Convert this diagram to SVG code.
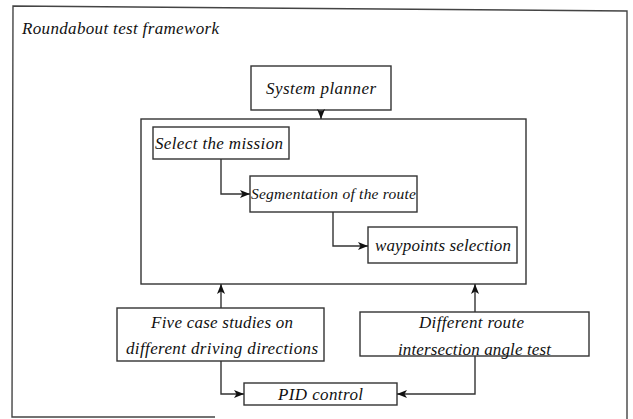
<svg xmlns="http://www.w3.org/2000/svg" width="633" height="419" viewBox="0 0 633 419">
<style>
.box{fill:#fff;stroke:#333;stroke-width:1.4}
.t{font-family:"Liberation Serif","Times New Roman",serif;font-style:italic;font-size:17px;fill:#111;text-anchor:middle}
.c{fill:none;stroke:#333;stroke-width:1.4}
</style>
<defs>
<marker id="ah" viewBox="0 0 10 8" refX="10" refY="4" markerWidth="10" markerHeight="8" markerUnits="userSpaceOnUse" orient="auto">
<path d="M0,0 L10,4 L0,8 L2.5,4 Z" fill="#111"/>
</marker>
</defs>
<rect width="633" height="419" fill="#fff"/>
<g id="frame">
<path d="M215,417 L12,417 L13,6 L627,11 L627,419" fill="none" stroke="#444" stroke-width="1.4"/>
<text class="t" x="22" y="34" style="text-anchor:start" textLength="197" lengthAdjust="spacing">Roundabout test framework</text>
</g>
<g id="system-planner">
<rect class="box" x="251" y="66" width="140" height="44"/>
<text class="t" x="321" y="94" textLength="110" lengthAdjust="spacing">System planner</text>
</g>
<g id="mission-container">
<rect class="box" x="141" y="119" width="385" height="165"/>
</g>
<g id="select-mission">
<rect class="box" x="153" y="127" width="136" height="32"/>
<text class="t" x="219" y="149" textLength="128" lengthAdjust="spacing">Select the mission</text>
</g>
<g id="segmentation">
<rect class="box" x="250" y="176" width="167" height="36"/>
<text class="t" x="333.500" y="199" style="font-size:15.5px" textLength="165" lengthAdjust="spacing">Segmentation of the route</text>
</g>
<g id="waypoints">
<rect class="box" x="368" y="227" width="149" height="36"/>
<text class="t" x="443" y="251" textLength="136" lengthAdjust="spacing">waypoints selection</text>
</g>
<g id="five-case">
<rect class="box" x="117" y="308" width="207" height="53"/>
<text class="t" x="222" y="328" textLength="142" lengthAdjust="spacing">Five case studies on</text>
<text class="t" x="222" y="354" textLength="192" lengthAdjust="spacing">different driving directions</text>
</g>
<g id="different-route">
<rect class="box" x="360" y="312" width="229" height="44"/>
<text class="t" x="471.500" y="328" textLength="105" lengthAdjust="spacing">Different route</text>
<text class="t" x="474.500" y="355" textLength="153" lengthAdjust="spacing">intersection angle test</text>
</g>
<g id="pid">
<rect class="box" x="244" y="383" width="153" height="22"/>
<text class="t" x="320.500" y="400" textLength="85" lengthAdjust="spacing">PID control</text>
</g>
<g id="connectors">
<path class="c" d="M321,110 L321,119" marker-end="url(#ah)"/>
<path class="c" d="M221,159 L221,194 L250,194" marker-end="url(#ah)"/>
<path class="c" d="M333,212 L333,246 L368,246" marker-end="url(#ah)"/>
<path class="c" d="M221,308 L221,284" marker-end="url(#ah)"/>
<path class="c" d="M475,312 L475,284" marker-end="url(#ah)"/>
<path class="c" d="M221,361 L221,394 L244,394" marker-end="url(#ah)"/>
<path class="c" d="M475,356 L475,394 L397,394" marker-end="url(#ah)"/>
</g>
</svg>
